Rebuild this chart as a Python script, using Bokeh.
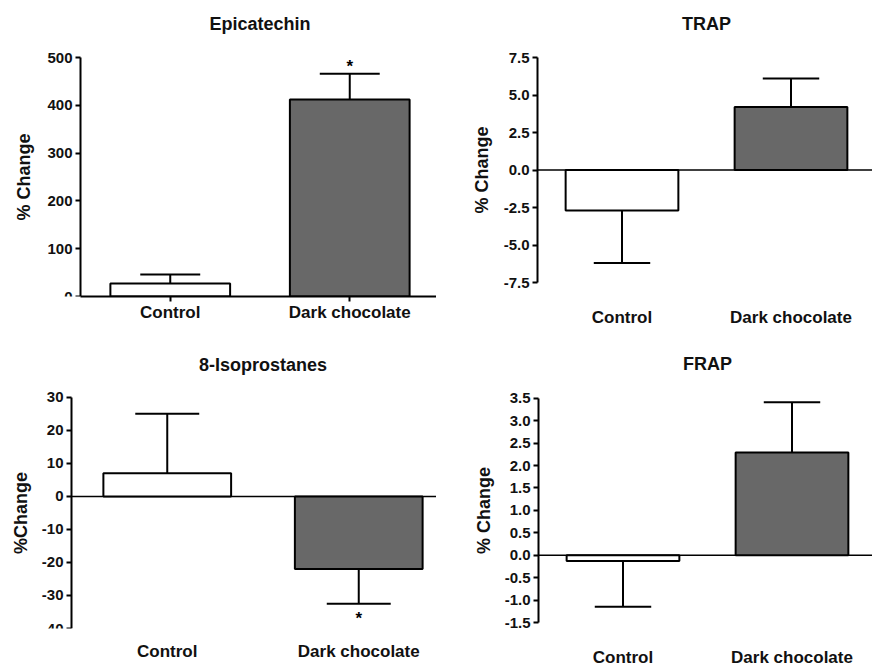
import math
from bokeh.plotting import figure
from bokeh.layouts import column, row
from bokeh.models import FixedTicker, Range1d, ColumnDataSource, LinearAxis
from bokeh.embed import file_html
from bokeh.resources import INLINE
from bokeh.core.properties import value

# ---------------- data ----------------
categories = ["Control", "Dark chocolate"]
bar_colors = ["#ffffff", "#686868"]

epi_title = "Epicatechin"
epi_ylabel = "% Change"
epi_mean = [27, 412]
epi_err = [19, 54]
epi_sig = ["", "*"]
epi_ticks = [0, 100, 200, 300, 400, 500]

trap_title = "TRAP"
trap_ylabel = "% Change"
trap_mean = [-2.7, 4.2]
trap_err = [3.5, 1.9]
trap_sig = ["", ""]
trap_ticks = [-7.5, -5.0, -2.5, 0.0, 2.5, 5.0, 7.5]

iso_title = "8-Isoprostanes"
iso_ylabel = "%Change"
iso_mean = [7, -22]
iso_err = [18, 10.5]
iso_sig = ["", "*"]
iso_ticks = [-40, -30, -20, -10, 0, 10, 20, 30]

frap_title = "FRAP"
frap_ylabel = "% Change"
frap_mean = [-0.13, 2.29]
frap_err = [1.02, 1.12]
frap_sig = ["", ""]
frap_ticks = [-1.5, -1.0, -0.5, 0.0, 0.5, 1.0, 1.5, 2.0, 2.5, 3.0, 3.5]

FONT = "Liberation Sans"
INK = "#111111"


def make_panel(title, ylabel, mean, err, sig, ticks, decimals, width, height,
               top, bottom, axis_px, px_per_cat, tick_top_px, tick_bot_px,
               xlab_standoff, ylab_dx, title_dy, baseline_axis):
    xs = list(range(len(categories)))
    axis_x = xs[0] - 0.5
    tips = [m + e if m >= 0 else m - e for m, e in zip(mean, err)]
    cap = 0.167

    # ranges: frame spans the whole figure width; the y axis sits inside it
    x_start = axis_x - axis_px / px_per_cat
    x_end = axis_x + (width - axis_px) / px_per_cat
    frame_bot_px = height - bottom
    scale = (tick_bot_px - tick_top_px) / (ticks[-1] - ticks[0])
    y_end = ticks[-1] + (tick_top_px - top) / scale
    y_start = ticks[0] - (frame_bot_px - tick_bot_px) / scale

    p = figure(width=width, height=height, output_backend="svg",
               toolbar_location=None, y_axis_location=None,
               x_range=Range1d(x_start, x_end),
               y_range=Range1d(y_start, y_end),
               min_border_left=0, min_border_top=top,
               min_border_bottom=bottom, min_border_right=0)
    p.outline_line_color = None
    p.grid.visible = False
    p.background_fill_color = "white"

    src = ColumnDataSource(dict(
        x=xs, mean=mean, tip=tips, color=bar_colors,
        x0=[x - cap for x in xs], x1=[x + cap for x in xs], sig=sig,
        yoff=[-7 if m >= 0 else 15 for m in mean]))

    if not baseline_axis:
        p.segment(x0=[axis_x], y0=[0], x1=[x_end], y1=[0],
                  line_color="black", line_width=1.5)

    # one-sided error bars
    p.segment(x0="x", y0="mean", x1="x", y1="tip", source=src,
              line_color="black", line_width=2)
    p.segment(x0="x0", y0="tip", x1="x1", y1="tip", source=src,
              line_color="black", line_width=2)
    p.vbar(x="x", top="mean", bottom=0, width=0.667, source=src,
           fill_color="color", line_color="black", line_width=2)
    p.text(x="x", y="tip", text="sig", source=src, y_offset="yoff",
           text_align="center", text_baseline="middle",
           text_font=value(FONT), text_font_size="17px",
           text_font_style="bold", text_color="black")

    # panel title, centred between the two categories
    p.text(x=[sum(xs) / len(xs)], y=[ticks[-1]], text=[title],
           y_offset=title_dy, text_align="center", text_baseline="middle",
           text_font=value(FONT), text_font_size="18px",
           text_font_style="bold", text_color=INK)

    # y-axis title
    p.text(x=[axis_x], y=[(ticks[0] + ticks[-1]) / 2], text=[ylabel],
           x_offset=-ylab_dx, angle=math.pi / 2, text_align="center",
           text_baseline="middle", text_font=value(FONT),
           text_font_size="18px", text_font_style="bold", text_color=INK)

    # y axis drawn at the left edge of the first category slot
    ya = LinearAxis(fixed_location=axis_x)
    ya.ticker = FixedTicker(ticks=ticks)
    ya.bounds = (ticks[0], ticks[-1])
    ya.major_label_overrides = {t: f"{t:.{decimals}f}" for t in ticks}
    ya.minor_tick_line_color = None
    ya.major_tick_in = 0
    ya.major_tick_out = 5
    ya.major_tick_line_width = 2
    ya.axis_line_width = 2
    ya.major_label_standoff = 3
    ya.major_label_text_font = FONT
    ya.major_label_text_font_style = "bold"
    ya.major_label_text_font_size = "15px"
    ya.major_label_text_color = INK
    p.add_layout(ya, "left")

    # x axis (category labels)
    xa = p.xaxis[0]
    xa.ticker = FixedTicker(ticks=xs)
    xa.bounds = (axis_x, x_end)
    xa.major_label_overrides = {x: c for x, c in zip(xs, categories)}
    xa.minor_tick_line_color = None
    xa.major_label_text_font = FONT
    xa.major_label_text_font_style = "bold"
    xa.major_label_text_font_size = "17px"
    xa.major_label_text_color = INK
    xa.major_label_standoff = xlab_standoff
    xa.major_tick_in = 0
    if baseline_axis:
        xa.axis_line_width = 2
        xa.major_tick_out = 5
        xa.major_tick_line_width = 2
    else:
        xa.axis_line_color = None
        xa.major_tick_line_color = None
        xa.major_tick_out = 0
    return p


p1 = make_panel(epi_title, epi_ylabel, epi_mean, epi_err, epi_sig, epi_ticks,
                0, 436, 334, 4, 38, 80, 179.5, 57, 296, 1, 57, -34, True)
p2 = make_panel(trap_title, trap_ylabel, trap_mean, trap_err, trap_sig,
                trap_ticks, 1, 436, 334, 4, 38, 101, 169, 57, 282, 11, 56,
                -34, False)
p3 = make_panel(iso_title, iso_ylabel, iso_mean, iso_err, iso_sig, iso_ticks,
                0, 436, 335, 4, 40, 71, 191.5, 63, 295, 13, 51, -32, False)
p4 = make_panel(frap_title, frap_ylabel, frap_mean, frap_err, frap_sig,
                frap_ticks, 1, 436, 335, 4, 40, 102, 169, 64, 289, 19, 55,
                -34, False)

layout = column(row(p1, p2), row(p3, p4))
open("out.html", "w").write(file_html(layout, INLINE))
